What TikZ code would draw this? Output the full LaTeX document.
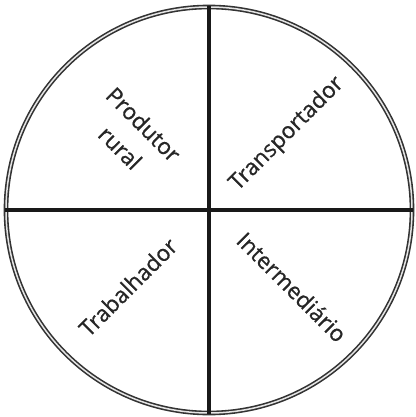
\documentclass[tikz,border=0pt]{standalone}
\usepackage{fontspec}
\setmainfont{Open Sans}
\newfontfamily\lblfont{Open Sans}[FakeBold=0.7]
\usetikzlibrary{positioning}

\begin{document}
\begin{tikzpicture}[x=1pt, y=-1pt, every node/.style={font=\lblfont\fontsize{22.5}{33}\selectfont, text=black!85}]
\tikzset{ring/.style={draw=black!80, circle, minimum size=406pt, inner sep=0pt, line width=1.6pt, double=white!90!black, double distance=1.5pt}}
\tikzset{axis/.style={draw=black!90, line width=4.2pt}}
\tikzset{lbl/.style={align=center, inner sep=0pt}}
\useasboundingbox (0,0) rectangle (415,417);
\node[ring] (c) at (209,210) {};
\draw[axis] (c.north) -- (c.south);
\draw[axis] (c.west) -- (c.east);
\node[lbl, rotate=-45] (pr) at (132,136) {Produtor\\rural};
\node[lbl, rotate=45] (tp) at (287,134) {Transportador};
\node[lbl, rotate=45] (tb) at (128,287) {Trabalhador};
\node[lbl, rotate=-45] (im) at (292,287) {Intermediário};
\end{tikzpicture}
\end{document}
